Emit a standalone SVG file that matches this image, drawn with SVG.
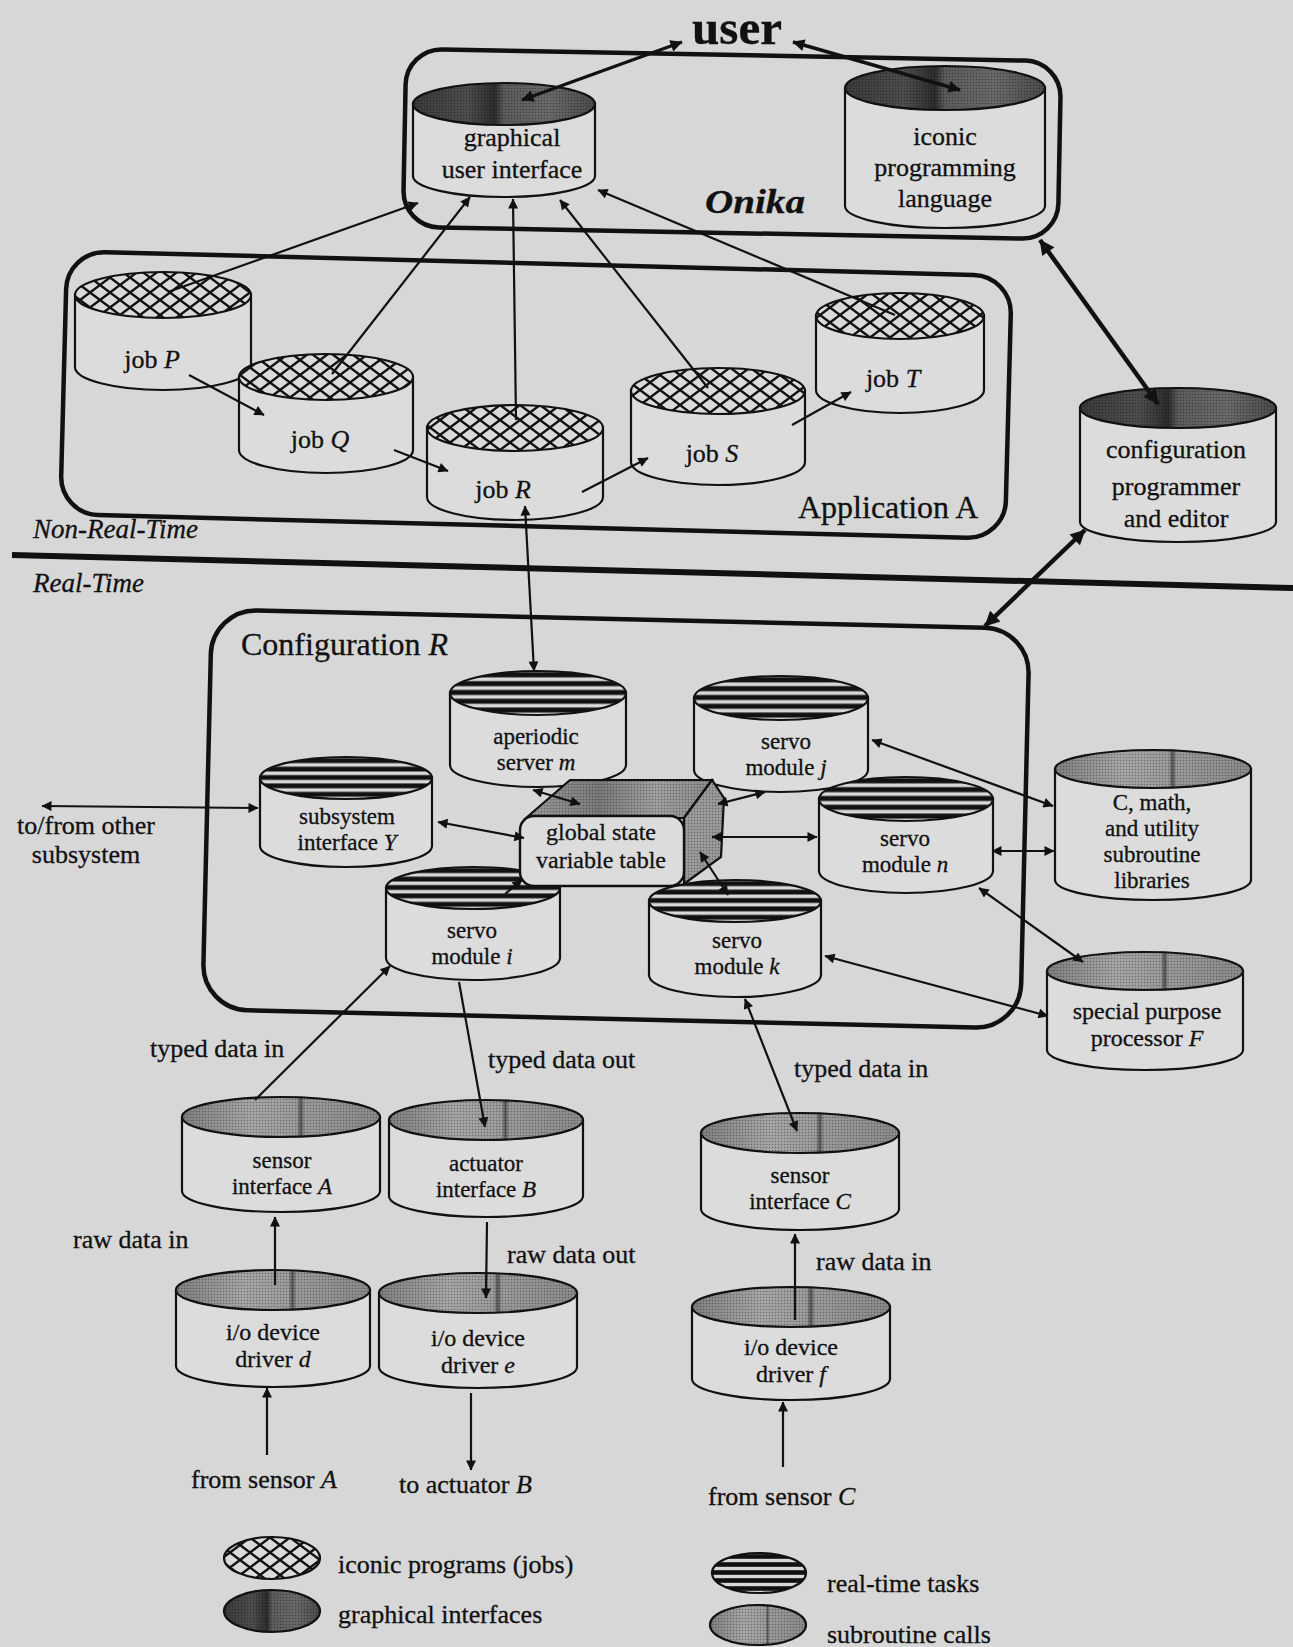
<svg xmlns="http://www.w3.org/2000/svg" width="1293" height="1647" viewBox="0 0 1293 1647">
<defs>
<style>
.bg{fill:#d7d7d7}
.box{fill:none;stroke:#111;stroke-width:4.5}
.sep{stroke:#111;stroke-width:6}
.body{fill:#dcdcdc;stroke:#111;stroke-width:2.2}
.xh{fill:url(#xhatch);stroke:#111;stroke-width:2.2}
.st{fill:url(#stripes);stroke:#111;stroke-width:2.2}
.gi{fill:url(#gDark);stroke:#111;stroke-width:2.2}
.sb{fill:url(#gMed);stroke:#111;stroke-width:2.2}
.dt{fill:url(#dots);stroke:none}
.c{stroke:#111;stroke-width:2.2;fill:none;marker-end:url(#ah)}
.cb{marker-start:url(#ah)}
.cm{stroke:#111;stroke-width:3.4;fill:none;marker-end:url(#ahm);marker-start:url(#ahm)}
.ct{stroke:#111;stroke-width:4.5;fill:none;marker-end:url(#ahb);marker-start:url(#ahb)}
text{font-family:"Liberation Serif","Times New Roman",serif;fill:#111;stroke:#111;stroke-width:0.3}
.t{font-size:23px;text-anchor:middle}
.t24{font-size:24px;text-anchor:middle}
.t26{font-size:26px;text-anchor:middle}
.l{font-size:26px}
.i{font-style:italic}
</style>
<pattern id="xhatch" width="20" height="15" patternUnits="userSpaceOnUse">
<rect width="20" height="15" fill="#dadada"/>
<path d="M-2,-1.5 L22,16.5 M22,-1.5 L-2,16.5" stroke="#111" stroke-width="2.4"/>
</pattern>
<pattern id="stripes" width="1" height="0.2" patternContentUnits="objectBoundingBox">
<rect width="1" height="0.2" fill="#d8d8d8"/>
<rect y="0.03" width="1" height="0.115" fill="#111"/>
</pattern>
<pattern id="dots" width="3" height="3" patternUnits="userSpaceOnUse">
<circle cx="1.5" cy="1.5" r="0.75" fill="#000" fill-opacity="0.35"/>
</pattern>
<linearGradient id="gDark" x1="0" y1="0" x2="1" y2="0">
<stop offset="0" stop-color="#3a3a3a"/>
<stop offset="0.3" stop-color="#4e4e4e"/>
<stop offset="0.45" stop-color="#2c2c2c"/>
<stop offset="0.5" stop-color="#5c5c5c"/>
<stop offset="0.75" stop-color="#6a6a6a"/>
<stop offset="1" stop-color="#4a4a4a"/>
</linearGradient>
<linearGradient id="gMed" x1="0" y1="0" x2="1" y2="0">
<stop offset="0" stop-color="#808080"/>
<stop offset="0.35" stop-color="#a6a6a6"/>
<stop offset="0.58" stop-color="#9c9c9c"/>
<stop offset="0.6" stop-color="#555"/>
<stop offset="0.62" stop-color="#9a9a9a"/>
<stop offset="1" stop-color="#8a8a8a"/>
</linearGradient>
<linearGradient id="gTop" x1="0" y1="0" x2="1" y2="0">
<stop offset="0" stop-color="#9a9a9a"/>
<stop offset="0.4" stop-color="#7a7a7a"/>
<stop offset="0.7" stop-color="#a0a0a0"/>
<stop offset="1" stop-color="#8a8a8a"/>
</linearGradient>
<marker id="ah" viewBox="0 0 10 10" refX="9.5" refY="5" markerWidth="13" markerHeight="10" markerUnits="userSpaceOnUse" orient="auto-start-reverse">
<path d="M0,0 L10,5 L0,10 z" fill="#111"/>
</marker>
<marker id="ahm" viewBox="0 0 10 10" refX="9.5" refY="5" markerWidth="16" markerHeight="12" markerUnits="userSpaceOnUse" orient="auto-start-reverse">
<path d="M0,0 L10,5 L0,10 z" fill="#111"/>
</marker>
<marker id="ahb" viewBox="0 0 10 10" refX="9.5" refY="5" markerWidth="20" markerHeight="15" markerUnits="userSpaceOnUse" orient="auto-start-reverse">
<path d="M0,0 L10,5 L0,10 z" fill="#111"/>
</marker>
</defs>

<rect class="bg" x="0" y="0" width="1293" height="1647"/>

<g id="boxes">
<rect id="onika-box" class="box" x="404.5" y="55" width="655" height="178" rx="36" transform="rotate(1.1 732 144)"/>
<rect id="application-box" class="box" x="63.5" y="263.5" width="945" height="263" rx="38" transform="rotate(1.5 536 395)"/>
<rect id="configuration-box" class="box" x="207" y="619" width="818" height="400" rx="45" transform="rotate(1.36 616 819)"/>
<line id="separator" class="sep" x1="12" y1="555" x2="1293" y2="588"/>
</g>

<g id="labels">
<text x="692" y="44" style="font-size:48px;font-weight:bold" textLength="90" lengthAdjust="spacingAndGlyphs">user</text>
<text x="705" y="213" style="font-size:34px;font-weight:bold;font-style:italic" textLength="100" lengthAdjust="spacingAndGlyphs">Onika</text>
<text x="798" y="518" style="font-size:32px">Application A</text>
<text x="33" y="538" class="i" style="font-size:27px">Non-Real-Time</text>
<text x="33" y="592" class="i" style="font-size:27px">Real-Time</text>
<text x="241" y="655" style="font-size:32px">Configuration <tspan class="i">R</tspan></text>
<text x="86" y="834" class="t26">to/from other</text>
<text x="86" y="863" class="t26">subsystem</text>
<text x="150" y="1057" class="l">typed data in</text>
<text x="488" y="1068" class="l">typed data out</text>
<text x="794" y="1077" class="l">typed data in</text>
<text x="73" y="1248" class="l">raw data in</text>
<text x="507" y="1263" class="l">raw data out</text>
<text x="816" y="1270" class="l">raw data in</text>
<text x="191" y="1488" class="l">from sensor <tspan class="i">A</tspan></text>
<text x="399" y="1493" class="l">to actuator <tspan class="i">B</tspan></text>
<text x="708" y="1505" class="l">from sensor <tspan class="i">C</tspan></text>
</g>

<g id="gui">
<path class="body" d="M413,104V176A91,21 0 0 0 595,176V104Z"/>
<ellipse class="gi" cx="504" cy="104" rx="91" ry="21"/>
<ellipse class="dt" cx="504" cy="104" rx="90" ry="20"/>
<text class="t26" x="512" y="146">graphical</text>
<text class="t26" x="512" y="178">user interface</text>
</g>

<g id="iconic">
<path class="body" d="M845,88V206A100,22 0 0 0 1045,206V88Z"/>
<ellipse class="gi" cx="945" cy="88" rx="100" ry="22"/>
<ellipse class="dt" cx="945" cy="88" rx="99" ry="21"/>
<text class="t26" x="945" y="145">iconic</text>
<text class="t26" x="945" y="176">programming</text>
<text class="t26" x="945" y="207">language</text>
</g>

<g id="config-programmer">
<path class="body" d="M1080,408V522A98,20 0 0 0 1276,522V408Z"/>
<ellipse class="gi" cx="1178" cy="408" rx="98" ry="20"/>
<ellipse class="dt" cx="1178" cy="408" rx="97" ry="19"/>
<text class="t26" x="1176" y="458">configuration</text>
<text class="t26" x="1176" y="495">programmer</text>
<text class="t26" x="1176" y="527">and editor</text>
</g>

<g id="job-p">
<path class="body" d="M75,295V367A88,23 0 0 0 251,367V295Z"/>
<ellipse class="xh" cx="163" cy="295" rx="88" ry="23"/>
<text class="t26" x="152" y="368">job <tspan class="i">P</tspan></text>
</g>

<g id="job-q">
<path class="body" d="M239,377V450A87,23 0 0 0 413,450V377Z"/>
<ellipse class="xh" cx="326" cy="377" rx="87" ry="23"/>
<text class="t26" x="320" y="448">job <tspan class="i">Q</tspan></text>
</g>

<g id="job-r">
<path class="body" d="M427,428V497A88,23 0 0 0 603,497V428Z"/>
<ellipse class="xh" cx="515" cy="428" rx="88" ry="23"/>
<text class="t26" x="503" y="498">job <tspan class="i">R</tspan></text>
</g>

<g id="job-s">
<path class="body" d="M631,391V462A87,23 0 0 0 805,462V391Z"/>
<ellipse class="xh" cx="718" cy="391" rx="87" ry="23"/>
<text class="t26" x="712" y="462">job <tspan class="i">S</tspan></text>
</g>

<g id="job-t">
<path class="body" d="M816,316V390A84,23 0 0 0 984,390V316Z"/>
<ellipse class="xh" cx="900" cy="316" rx="84" ry="23"/>
<text class="t26" x="893" y="387">job <tspan class="i">T</tspan></text>
</g>

<g id="aperiodic-server">
<path class="body" d="M450,693V765A88,22 0 0 0 626,765V693Z"/>
<ellipse class="st" cx="538" cy="693" rx="88" ry="22"/>
<text class="t" x="536" y="744">aperiodic</text>
<text class="t" x="536" y="770">server <tspan class="i">m</tspan></text>
</g>

<g id="servo-j">
<path class="body" d="M694,698V770A87,22 0 0 0 868,770V698Z"/>
<ellipse class="st" cx="781" cy="698" rx="87" ry="22"/>
<text class="t" x="786" y="749">servo</text>
<text class="t" x="786" y="775">module <tspan class="i">j</tspan></text>
</g>

<g id="subsystem-y">
<path class="body" d="M260,778V846A86,21 0 0 0 432,846V778Z"/>
<ellipse class="st" cx="346" cy="778" rx="86" ry="21"/>
<text class="t" x="347" y="824">subsystem</text>
<text class="t" x="347" y="850">interface <tspan class="i">Y</tspan></text>
</g>

<g id="servo-n">
<path class="body" d="M819,799V871A87,22 0 0 0 993,871V799Z"/>
<ellipse class="st" cx="906" cy="799" rx="87" ry="22"/>
<text class="t" x="905" y="846">servo</text>
<text class="t" x="905" y="872">module <tspan class="i">n</tspan></text>
</g>

<g id="servo-i">
<path class="body" d="M386,888V958A87,22 0 0 0 560,958V888Z"/>
<ellipse class="st" cx="473" cy="888" rx="87" ry="21"/>
<text class="t" x="472" y="938">servo</text>
<text class="t" x="472" y="964">module <tspan class="i">i</tspan></text>
</g>

<g id="servo-k">
<path class="body" d="M649,901V975A86,22 0 0 0 821,975V901Z"/>
<ellipse class="st" cx="735" cy="901" rx="86" ry="21"/>
<text class="t" x="737" y="948">servo</text>
<text class="t" x="737" y="974">module <tspan class="i">k</tspan></text>
</g>

<g id="global-state-table">
<polygon points="526,818 570,780 712,780 684,818" fill="url(#gTop)" stroke="#111" stroke-width="2.2"/>
<polygon points="526,818 570,780 712,780 684,818" class="dt"/>
<polygon points="684,818 712,780 724,798 721,857 684,884" fill="#9a9a9a" stroke="#111" stroke-width="2.2"/>
<polygon points="684,818 712,780 724,798 721,857 684,884" class="dt"/>
<rect x="520" y="816" width="164" height="70" rx="14" fill="#dcdcdc" stroke="#111" stroke-width="2.4"/>
<text class="t24" x="601" y="840">global state</text>
<text class="t24" x="601" y="868">variable table</text>
</g>

<g id="libraries">
<path class="body" d="M1055,769V880A98,20 0 0 0 1251,880V769Z"/>
<ellipse class="sb" cx="1153" cy="769" rx="98" ry="19"/>
<ellipse class="dt" cx="1153" cy="769" rx="97" ry="18"/>
<text class="t" x="1152" y="810">C, math,</text>
<text class="t" x="1152" y="836">and utility</text>
<text class="t" x="1152" y="862">subroutine</text>
<text class="t" x="1152" y="888">libraries</text>
</g>

<g id="special-processor">
<path class="body" d="M1047,971V1050A98,20 0 0 0 1243,1050V971Z"/>
<ellipse class="sb" cx="1145" cy="971" rx="98" ry="19"/>
<ellipse class="dt" cx="1145" cy="971" rx="97" ry="18"/>
<text class="t24" x="1147" y="1019">special purpose</text>
<text class="t24" x="1147" y="1046">processor <tspan class="i">F</tspan></text>
</g>

<g id="sensor-a">
<path class="body" d="M182,1117V1191A99,21 0 0 0 380,1191V1117Z"/>
<ellipse class="sb" cx="281" cy="1117" rx="99" ry="20"/>
<ellipse class="dt" cx="281" cy="1117" rx="98" ry="19"/>
<text class="t" x="282" y="1168">sensor</text>
<text class="t" x="282" y="1194">interface <tspan class="i">A</tspan></text>
</g>

<g id="actuator-b">
<path class="body" d="M389,1120V1196A97,21 0 0 0 583,1196V1120Z"/>
<ellipse class="sb" cx="486" cy="1120" rx="97" ry="20"/>
<ellipse class="dt" cx="486" cy="1120" rx="96" ry="19"/>
<text class="t" x="486" y="1171">actuator</text>
<text class="t" x="486" y="1197">interface <tspan class="i">B</tspan></text>
</g>

<g id="sensor-c">
<path class="body" d="M701,1133V1209A99,21 0 0 0 899,1209V1133Z"/>
<ellipse class="sb" cx="800" cy="1133" rx="99" ry="20"/>
<ellipse class="dt" cx="800" cy="1133" rx="98" ry="19"/>
<text class="t" x="800" y="1183">sensor</text>
<text class="t" x="800" y="1209">interface <tspan class="i">C</tspan></text>
</g>

<g id="driver-d">
<path class="body" d="M176,1290V1366A97,21 0 0 0 370,1366V1290Z"/>
<ellipse class="sb" cx="273" cy="1290" rx="97" ry="20"/>
<ellipse class="dt" cx="273" cy="1290" rx="96" ry="19"/>
<text class="t24" x="273" y="1340">i/o device</text>
<text class="t24" x="273" y="1367">driver <tspan class="i">d</tspan></text>
</g>

<g id="driver-e">
<path class="body" d="M379,1293V1367A99,21 0 0 0 577,1367V1293Z"/>
<ellipse class="sb" cx="478" cy="1293" rx="99" ry="20"/>
<ellipse class="dt" cx="478" cy="1293" rx="98" ry="19"/>
<text class="t24" x="478" y="1346">i/o device</text>
<text class="t24" x="478" y="1373">driver <tspan class="i">e</tspan></text>
</g>

<g id="driver-f">
<path class="body" d="M692,1307V1379A99,21 0 0 0 890,1379V1307Z"/>
<ellipse class="sb" cx="791" cy="1307" rx="99" ry="20"/>
<ellipse class="dt" cx="791" cy="1307" rx="98" ry="19"/>
<text class="t24" x="791" y="1355">i/o device</text>
<text class="t24" x="791" y="1382">driver <tspan class="i">f</tspan></text>
</g>

<g id="connectors">
<line class="cm" x1="522" y1="100" x2="682" y2="42"/>
<line class="cm" x1="793" y1="42" x2="960" y2="90"/>
<line class="c" x1="168" y1="292" x2="418" y2="203"/>
<line class="c" x1="332" y1="374" x2="470" y2="197"/>
<line class="c" x1="516" y1="420" x2="513" y2="199"/>
<line class="c" x1="708" y1="388" x2="560" y2="200"/>
<line class="c" x1="895" y1="315" x2="598" y2="190"/>
<line class="c" x1="189" y1="375" x2="264" y2="415"/>
<line class="c" x1="394" y1="450" x2="448" y2="471"/>
<line class="c" x1="582" y1="492" x2="648" y2="458"/>
<line class="c" x1="792" y1="425" x2="851" y2="392"/>
<line class="c cb" x1="525" y1="506" x2="534" y2="671"/>
<line class="ct" x1="1040" y1="240" x2="1158" y2="404"/>
<line class="ct" x1="1085" y1="530" x2="985" y2="626"/>
<line class="c cb" x1="42" y1="806" x2="258" y2="808"/>
<line class="c cb" x1="438" y1="822" x2="524" y2="838"/>
<line class="c cb" x1="533" y1="790" x2="580" y2="804"/>
<line class="c cb" x1="718" y1="804" x2="765" y2="792"/>
<line class="c cb" x1="712" y1="837" x2="817" y2="837"/>
<line class="c cb" x1="700" y1="852" x2="728" y2="895"/>
<line class="c" x1="505" y1="894" x2="522" y2="880"/>
<line class="c cb" x1="872" y1="740" x2="1053" y2="806"/>
<line class="c cb" x1="992" y1="851" x2="1054" y2="851"/>
<line class="c cb" x1="979" y1="888" x2="1083" y2="962"/>
<line class="c cb" x1="825" y1="956" x2="1048" y2="1016"/>
<line class="c" x1="255" y1="1100" x2="390" y2="966"/>
<line class="c" x1="459" y1="982" x2="485" y2="1127"/>
<line class="c cb" x1="745" y1="999" x2="797" y2="1131"/>
<line class="c" x1="275" y1="1285" x2="275" y2="1217"/>
<line class="c" x1="487" y1="1222" x2="486" y2="1298"/>
<line class="c" x1="795" y1="1320" x2="795" y2="1234"/>
<line class="c" x1="267" y1="1455" x2="267" y2="1388"/>
<line class="c" x1="471" y1="1393" x2="471" y2="1470"/>
<line class="c" x1="783" y1="1467" x2="783" y2="1402"/>
</g>

<g id="legend">
<ellipse class="xh" cx="272" cy="1558" rx="48" ry="21"/>
<text class="l" x="338" y="1573">iconic programs (jobs)</text>
<ellipse class="gi" cx="272" cy="1611" rx="48" ry="21"/>
<ellipse class="dt" cx="272" cy="1611" rx="47" ry="20"/>
<text class="l" x="338" y="1623">graphical interfaces</text>
<ellipse class="st" cx="759" cy="1573" rx="47" ry="20"/>
<text class="l" x="827" y="1592">real-time tasks</text>
<ellipse class="sb" cx="758" cy="1625" rx="48" ry="20"/>
<ellipse class="dt" cx="758" cy="1625" rx="47" ry="19"/>
<text class="l" x="827" y="1643">subroutine calls</text>
</g>
</svg>
